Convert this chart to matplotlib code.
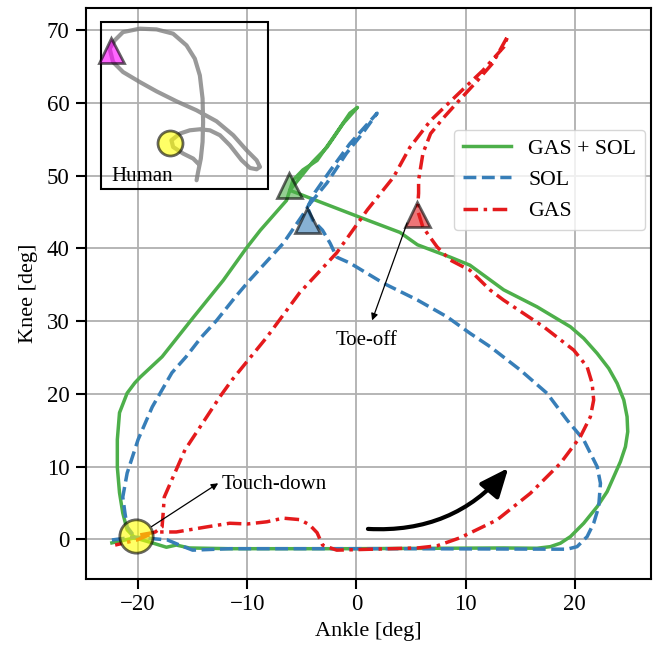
import matplotlib.pyplot as plt
from matplotlib.patches import Rectangle

plt.rcParams['font.family'] = 'serif'
plt.rcParams['font.serif'] = ['Liberation Serif', 'DejaVu Serif']
plt.rcParams['font.size'] = 15

# GAS + SOL (ankle, knee) in deg
gas_sol_ankle = [-22.4, -20.3, -18.7, -17.4, -16.5, -15.3, -11.6, -0.6, 13.5, 16.55, 17.77, 18.69,
                 19.61, 20.83, 22.06, 22.97, 23.58, 24.19, 24.65, 24.86, 24.8, 24.5, 23.89, 23.12,
                 22.06, 20.83, 19.61, 16.55, 13.5,
                 10.4, 8.6, 5.6, 4.0, 0.3, -6.1, -4.0, -2.7, -1.2, 0.1, -0.6, -2.1, -3.6, -4.9,
                 -5.8, -6.4, -8.8, -10.1, -12.2, -15.0, -17.8, -19.8, -20.3, -21.0, -21.7, -21.9,
                 -21.9, -21.7, -21.4, -21.0, -20.3]
gas_sol_knee = [-0.5, 0.2, -0.5, -1.1, -0.8, -1.2, -1.3, -1.3, -1.2, -1.24, -1.02, -0.55,
                0.36, 2.2, 4.48, 6.54, 8.6, 10.67, 12.73, 14.79, 16.85, 19.15, 21.44, 23.5,
                25.56, 27.63, 29.22, 31.97, 34.3,
                37.7, 38.8, 40.5, 42.2, 44.3, 48.0, 51.9, 53.9, 57.2, 59.4, 58.6, 55.3, 52.1, 50.8,
                49.4, 46.6, 42.5, 40.0, 35.6, 30.4, 25.1, 22.3, 21.5, 20.1, 17.4, 13.7,
                9.9, 6.4, 3.6, 1.3, 0.2]

# SOL
sol_ankle = [-22.4, -20.3, -17.3, -16.2, -15.0, -11.6, 4.0, 19.3, 20.22, 21.14, 21.74, 22.2,
             22.36, 22.06, 20.83, 19.3, 17.47, 15.02, 12.27, 10.43, 8.3, 5.6, 2.5, -0.6, -1.8, -2.4,
             -3.1, -4.0, -4.5, -2.7, -0.9, 0.6, 1.9, 1.3, -0.6, -2.4, -3.8, -4.6, -6.7,
             -9.8, -11.1, -12.8, -14.2, -15.6, -16.9, -18.7, -20.0, -21.0, -21.4,
             -21.2, -21.0, -20.3]
sol_knee = [-0.1, 0.3, -0.1, -0.8, -1.5, -1.3, -1.3, -1.37, -1.02, 0.36, 2.2, 4.48,
            7.7, 9.98, 13.65, 16.4, 20.07, 23.27, 26.47, 28.31, 30.6, 32.9, 35.2, 38.0, 38.8, 40.7,
            42.5, 43.9, 45.7, 49.0, 53.1, 55.9, 58.6, 57.6, 54.4, 50.7, 47.7, 45.3, 40.7,
            35.6, 33.3, 30.1, 27.8, 25.1, 22.9, 18.2, 13.7, 9.1, 5.8,
            3.6, 1.7, 0.3]

# GAS
gas_ankle = [-19.8, -18.3, -16.5, -13.7, -11.6, -10.0, -8.2, -6.7, -5.2, -4.3, -3.6, -3.1,
             -1.8, 5.6, 7.4, 9.5, 12.88, 15.94, 18.69, 20.52, 21.44, 21.74, 21.6, 21.14, 19.91,
             17.16, 13.49, 12.27, 10.4, 8.6, 7.4, 6.1, 5.6, 5.7, 5.7, 6.1, 6.8, 8.0, 9.2,
             11.1, 12.5, 13.9, 13.5, 11.6, 9.5, 6.8, 4.9, 3.4, 1.0, -1.8, -5.2, -8.2,
             -11.4, -12.5, -13.9, -15.7, -16.9, -17.6, -17.7, -17.8, -18.5, -20.1, -22.1]
gas_knee = [0.6, 1.0, 1.0, 1.7, 2.2, 2.1, 2.4, 2.9, 2.7, 2.0, 0.9, -0.8,
            -1.5, -1.2, -0.9, 0.2, 2.65, 6.32, 10.44, 14.1, 16.85, 19.15, 21.44, 23.72, 26.02,
            29.22, 32.89, 34.26, 37.0, 38.4, 40.2, 42.9, 45.3, 47.6, 49.4, 53.1, 55.8, 58.0, 60.0,
            63.1, 65.5, 69.3, 67.7, 64.5, 61.5, 57.6, 53.9, 49.8, 45.3, 39.4, 33.9, 27.8,
            21.9, 19.6, 16.4, 12.3, 8.2, 5.8, 3.6, 1.7, 0.9, -0.1, -0.8]

# human reference (inset)
human_ankle = [-14.64, -14.5, -14.25, -14.09, -14.04, -14.09, -14.34, -14.8, -15.56, -16.79,
               -18.31, -19.84, -21.38, -22.14, -22.6, -22.29, -21.38, -19.84, -18.31, -16.48,
               -14.64, -12.81, -11.28, -10.06, -9.14, -8.83, -9.14, -9.75, -10.51, -11.59,
               -12.5, -13.42, -14.34, -15.26, -16.17, -16.94, -16.79, -15.87, -14.95, -14.5]
human_knee = [49.38, 50.52, 52.36, 54.65, 57.39, 60.61, 63.8, 66.1, 67.93, 69.54,
              70.13, 70.23, 69.76, 68.62, 67.48, 65.64, 64.27, 62.89, 61.61, 60.24,
              59.0, 57.49, 55.57, 53.51, 52.13, 51.21, 50.89, 51.07, 52.13, 54.19,
              55.57, 56.25, 56.39, 56.25, 55.8, 54.88, 53.96, 53.05, 52.36, 51.68]

toe_off_sol_ankle, toe_off_sol_knee = -4.55, 43.9
toe_off_gas_sol_ankle, toe_off_gas_sol_knee = -6.15, 48.7
toe_off_gas_ankle, toe_off_gas_knee = 5.55, 44.8
touch_down_ankle, touch_down_knee = -20.2, 0.45
human_toe_off = (-22.5, 67.3)
human_touch_down = (-17.1, 54.5)

fig = plt.figure(figsize=(6.59, 6.5), dpi=100)
ax = fig.add_axes([0.13, 0.11, 0.858, 0.878])

ax.plot(gas_sol_ankle, gas_sol_knee, '-', color='#4daf4a', lw=2.5, label='GAS + SOL',
        solid_joinstyle='round')
ax.plot(sol_ankle, sol_knee, '--', color='#377eb8', lw=2.5, label='SOL',
        dash_joinstyle='round')
ax.plot(gas_ankle, gas_knee, color='#e41a1c', lw=2.5, label='GAS',
        dashes=(4.2, 1.6, 1.0, 1.6), dash_joinstyle='round')

ax.plot(toe_off_gas_sol_ankle, toe_off_gas_sol_knee, '^', ms=18, color='#4daf4a',
        mec='k', mew=2, alpha=0.6, zorder=5)
ax.plot(toe_off_sol_ankle, toe_off_sol_knee, '^', ms=18, color='#377eb8',
        mec='k', mew=2, alpha=0.6, zorder=5)
ax.plot(toe_off_gas_ankle, toe_off_gas_knee, '^', ms=18, color='#e41a1c',
        mec='k', mew=2, alpha=0.6, zorder=5)
ax.plot(touch_down_ankle, touch_down_knee, 'o', ms=24, color='yellow',
        mec='k', mew=2, alpha=0.6, zorder=5)

# inset with human data
ax.add_patch(Rectangle((-23.36, 48.24), 15.29, 22.9, fill=False, ec='k', lw=1.5, zorder=4))
ax.plot(human_ankle, human_knee, color='gray', lw=3, alpha=0.8, zorder=4,
        solid_joinstyle='round', solid_capstyle='round')
ax.plot(*human_toe_off, '^', ms=18, color='magenta', mec='k', mew=2, alpha=0.6, zorder=5)
ax.plot(*human_touch_down, 'o', ms=18, color='yellow', mec='k', mew=2, alpha=0.6, zorder=5)
ax.text(-22.4, 49.3, 'Human', va='baseline', ha='left')

ax.annotate('', xy=(1.44, 30.1), xytext=(4.65, 43.5),
            arrowprops=dict(arrowstyle='-|>', lw=0.9, color='k', mutation_scale=10,
                            shrinkA=0, shrinkB=0))
ax.text(-1.86, 26.7, 'Toe-off', va='baseline', ha='left')
ax.annotate('', xy=(-12.66, 7.7), xytext=(-18.77, 1.73),
            arrowprops=dict(arrowstyle='-|>', lw=0.9, color='k', mutation_scale=10,
                            shrinkA=0, shrinkB=0))
ax.text(-12.35, 6.87, 'Touch-down', va='baseline', ha='left')

ax.annotate('', xy=(13.92, 9.8), xytext=(1.06, 1.42),
            arrowprops=dict(arrowstyle='-|>,head_length=0.7,head_width=0.3', lw=3,
                            color='k', mutation_scale=25, shrinkA=0, shrinkB=0,
                            connectionstyle='arc3,rad=0.25'))

ax.set_xlim(-24.8, 27.0)
ax.set_ylim(-5.4, 73.1)
ax.set_xticks([-20, -10, 0, 10, 20])
ax.set_yticks(range(0, 71, 10))
ax.grid(True, color='#b0b0b0', lw=1.3)
ax.set_axisbelow(True)
for s in ax.spines.values():
    s.set_linewidth(1.5)
ax.tick_params(width=1.5, length=7, pad=4.5, labelsize=16.5)

ax.set_xlabel('Ankle [deg]', fontsize=16, labelpad=5)
ax.set_ylabel('Knee [deg]', fontsize=16, labelpad=6)
ax.legend(loc='upper right', bbox_to_anchor=(0.989, 0.786), borderaxespad=0,
          handlelength=2.2, fontsize=15.7)

fig.savefig('out.png')
